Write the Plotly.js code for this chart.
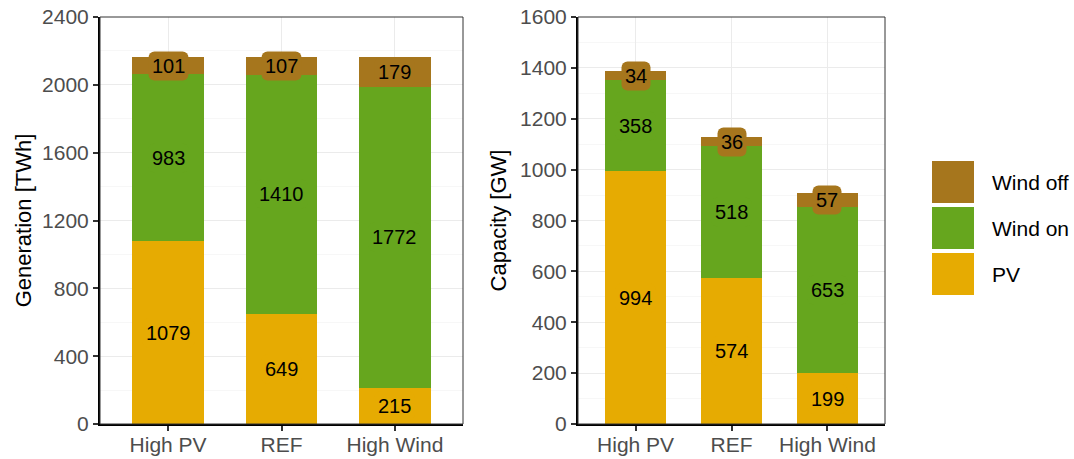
<!DOCTYPE html>
<html>
<head>
<meta charset="utf-8">
<script src="https://cdn.plot.ly/plotly-3.0.1.min.js"></script>
<style>
html,body{margin:0;padding:0;background:#fff;}
#chart{width:1074px;height:459px;}
</style>
</head>
<body>
<div id="chart"></div>
<script>
// ---- data ----
const scenarios = ["High PV", "REF", "High Wind"];
const seriesNames = ["PV", "Wind on", "Wind off"];
const seriesColors = ["#E6AB02", "#66A61E", "#A6761D"];
const genPV = [1079, 649, 215];
const genWindOn = [983, 1410, 1772];
const genWindOff = [101, 107, 179];
const capPV = [994, 574, 199];
const capWindOn = [358, 518, 653];
const capWindOff = [34, 36, 57];
const genTicks = [0, 400, 800, 1200, 1600, 2000, 2400];
const capTicks = [0, 200, 400, 600, 800, 1000, 1200, 1400, 1600];
const legendOrder = ["Wind off", "Wind on", "PV"];

const FONT = "Liberation Sans, Arial, sans-serif";
const W = 1074, H = 459;
const px = v => v / W;
const py = v => 1 - v / H;

const panels = [
  {series: [genPV, genWindOn, genWindOff], xa: "x", ya: "y"},
  {series: [capPV, capWindOn, capWindOff], xa: "x2", ya: "y2"}
];

const traces = [];
const annotations = [];
panels.forEach(p => {
  p.series.forEach((vals, si) => {
    traces.push({
      type: "bar", x: scenarios, y: vals, name: seriesNames[si],
      marker: {color: seriesColors[si], line: {width: 0}},
      width: 0.63, xaxis: p.xa, yaxis: p.ya, showlegend: false,
      hoverinfo: "x+y+name"
    });
  });
  scenarios.forEach((sc, ci) => {
    let base = 0;
    p.series.forEach((vals, si) => {
      const v = vals[ci];
      annotations.push({
        x: sc, y: base + v / 2, xref: p.xa, yref: p.ya,
        text: String(v), showarrow: false,
        font: {family: FONT, size: 20, color: "#000"},
        bgcolor: seriesColors[si], borderpad: 3
      });
      base += v;
    });
  });
});

// custom legend
const shapes = [];
const keyTop = [161, 207, 253];
legendOrder.forEach((nm, i) => {
  const col = seriesColors[seriesNames.indexOf(nm)];
  shapes.push({type: "rect", xref: "paper", yref: "paper",
    x0: px(932), x1: px(974), y0: py(keyTop[i] + 42), y1: py(keyTop[i]),
    fillcolor: col, line: {width: 0}});
  annotations.push({xref: "paper", yref: "paper", x: px(990), y: py(keyTop[i] + 21),
    xanchor: "left", yanchor: "middle", text: nm, showarrow: false,
    font: {family: FONT, size: 21, color: "#000"}});
});

// panel borders
["", "2"].forEach(s => {
  shapes.push({type: "rect", xref: "x" + s + " domain", yref: "y" + s + " domain",
    x0: 0, x1: 1, y0: 0, y1: 1, line: {color: "#333333", width: 1}, layer: "above"});
});

const xCommon = {
  type: "category", range: [-0.6, 2.6], showgrid: true, gridcolor: "#EBEBEB", gridwidth: 1.1,
  showline: true, linecolor: "#000", linewidth: 2, ticks: "outside", ticklen: 5,
  tickwidth: 2, tickcolor: "#333", zeroline: false, ticklabelstandoff: -4,
  tickfont: {family: FONT, size: 21, color: "#4D4D4D"}, fixedrange: true
};
function yAxis(ticks, dom, title, minorD, standoff) {
  return {
    range: [0, ticks[ticks.length - 1]], tickvals: ticks, ticktext: ticks.map(String),
    domain: dom, showgrid: true, gridcolor: "#EBEBEB", gridwidth: 1.1,
    minor: {dtick: minorD, tick0: minorD / 2, showgrid: true, gridcolor: "#F2F2F2", gridwidth: 0.6, ticks: ""},
    showline: true, linecolor: "#000", linewidth: 2, ticks: "outside", ticklen: 5,
    tickwidth: 2, tickcolor: "#333", zeroline: false, automargin: false,
    tickfont: {family: FONT, size: 21, color: "#4D4D4D"},
    title: {text: title, font: {family: FONT, size: 22, color: "#000"}, standoff: standoff},
    fixedrange: true
  };
}
const yDom = [1 - 424 / H, 1 - 17 / H];
const layout = {
  width: W, height: H, margin: {l: 0, r: 0, t: 0, b: 0},
  paper_bgcolor: "#fff", plot_bgcolor: "#fff",
  barmode: "stack", bargap: 0.37,
  xaxis: Object.assign({}, xCommon, {domain: [px(100), px(463)], anchor: "y"}),
  xaxis2: Object.assign({}, xCommon, {domain: [px(578), px(885)], anchor: "y2"}),
  yaxis: Object.assign(yAxis(genTicks, yDom, "Generation [TWh]", 400, 4), {anchor: "x"}),
  yaxis2: Object.assign(yAxis(capTicks, yDom, "Capacity [GW]", 200, 7), {anchor: "x2"}),
  annotations: annotations, shapes: shapes, showlegend: false,
  font: {family: FONT}
};
function roundLabels() {
  document.querySelectorAll(".annotation rect.bg").forEach(r => {
    r.setAttribute("rx", 6); r.setAttribute("ry", 6);
  });
}
Plotly.newPlot("chart", traces, layout, {displayModeBar: false, staticPlot: true}).then(roundLabels);
</script>
</body>
</html>
